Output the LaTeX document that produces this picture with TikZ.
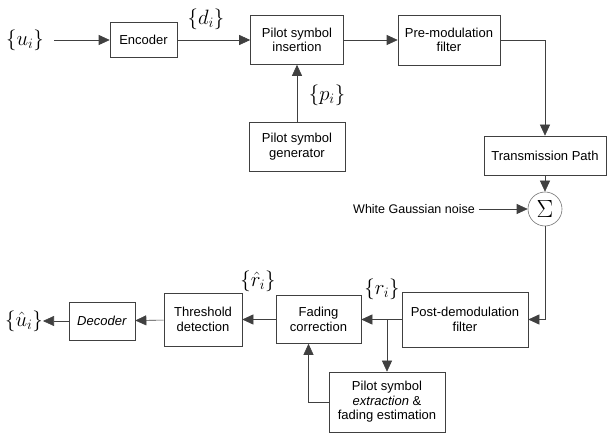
\documentclass[tikz,border=0pt]{standalone}
\usepackage{fontspec}
\setmainfont{Liberation Sans}
\usetikzlibrary{arrows.meta}

\begin{document}
\begin{tikzpicture}[x=1pt, y=-1pt,
	blok/.style={draw=black!75, line width=0.6pt, align=center, inner sep=0pt, font=\fontsize{13}{14.5}\selectfont},
	lbl/.style={inner sep=0pt, font=\fontsize{22}{25}\selectfont},
	sig/.style={-{Triangle[length=11pt,width=10pt]}, draw=black!75, line width=0.6pt}]
	\useasboundingbox (0,0) rectangle (608,435);

	% Transmitter chain
	\node[lbl] (u) at (25,40) {$\{u_i\}$};
	\node[blok, minimum width=67, minimum height=35] (enc) at (143.5,40) {Encoder};
	\node[blok, minimum width=93, minimum height=49] (ins) at (297,40) {Pilot symbol\\insertion};
	\node[blok, minimum width=102, minimum height=50] (pre) at (449,40) {Pre-modulation\\filter};
	\node[blok, minimum width=96, minimum height=49] (gen) at (297,146.5) {Pilot symbol\\generator};
	\node[blok, minimum width=122, minimum height=39] (tp) at (545,155.5) {Transmission Path};
	\node[circle, draw=black!55, line width=0.6pt, minimum size=34, inner sep=0pt, font=\fontsize{24}{26}\selectfont] (sum) at (545,209) {$\Sigma$};
	\node[inner sep=0pt, font=\fontsize{12.5}{14}\selectfont] (noise) at (414,209) {White Gaussian noise};

	% Labels on the top links
	\node[lbl] (d) at (206,19) {$\{d_i\}$};
	\node[lbl] (p) at (327,95) {$\{p_i\}$};

	% Receiver chain
	\node[blok, minimum width=126, minimum height=55] (post) at (465,319.5) {Post-demodulation\\filter};
	\node[blok, minimum width=85, minimum height=48] (fad) at (318.5,319.5) {Fading\\correction};
	\node[blok, minimum width=78, minimum height=53] (thr) at (203,319.5) {Threshold\\detection};
	\node[blok, minimum width=66, minimum height=38] (dec) at (102,321) {\textit{Decoder}};
	\node[lbl] (uh) at (24,321) {$\{\hat{u}_i\}$};
	\node[blok, minimum width=116, minimum height=60] (est) at (387,402) {Pilot symbol\\\textit{extraction} \&\\fading estimation};
	\coordinate (br) at (387,319.5);

	% Labels on the bottom links
	\node[lbl] (r) at (382,289) {$\{r_i\}$};
	\node[lbl] (rh) at (258,281) {$\{\hat{r}_i\}$};

	% Draw mappings
	\draw[sig, shorten <=10pt] (u) -- (enc);
	\draw[sig] (enc) -- (ins);
	\draw[sig] (ins) -- (pre);
	\draw[sig] (gen) -- (ins);
	\draw[sig] (pre.east) -| (tp.north);
	\draw[sig] (tp) -- (sum);
	\draw[sig, shorten <=4pt] (noise) -- (sum);
	\draw[sig] (sum.south) |- (post.east);
	\draw[sig] (post) -- (fad);
	\draw[sig] (br) -- (est.north);
	\draw[sig] (est.west) -| ([xshift=-10pt]fad.south);
	\draw[sig] (fad) -- (thr);
	\draw[sig] (thr) -- (dec);
	\draw[sig] (dec) -- (uh);
\end{tikzpicture}
\end{document}
